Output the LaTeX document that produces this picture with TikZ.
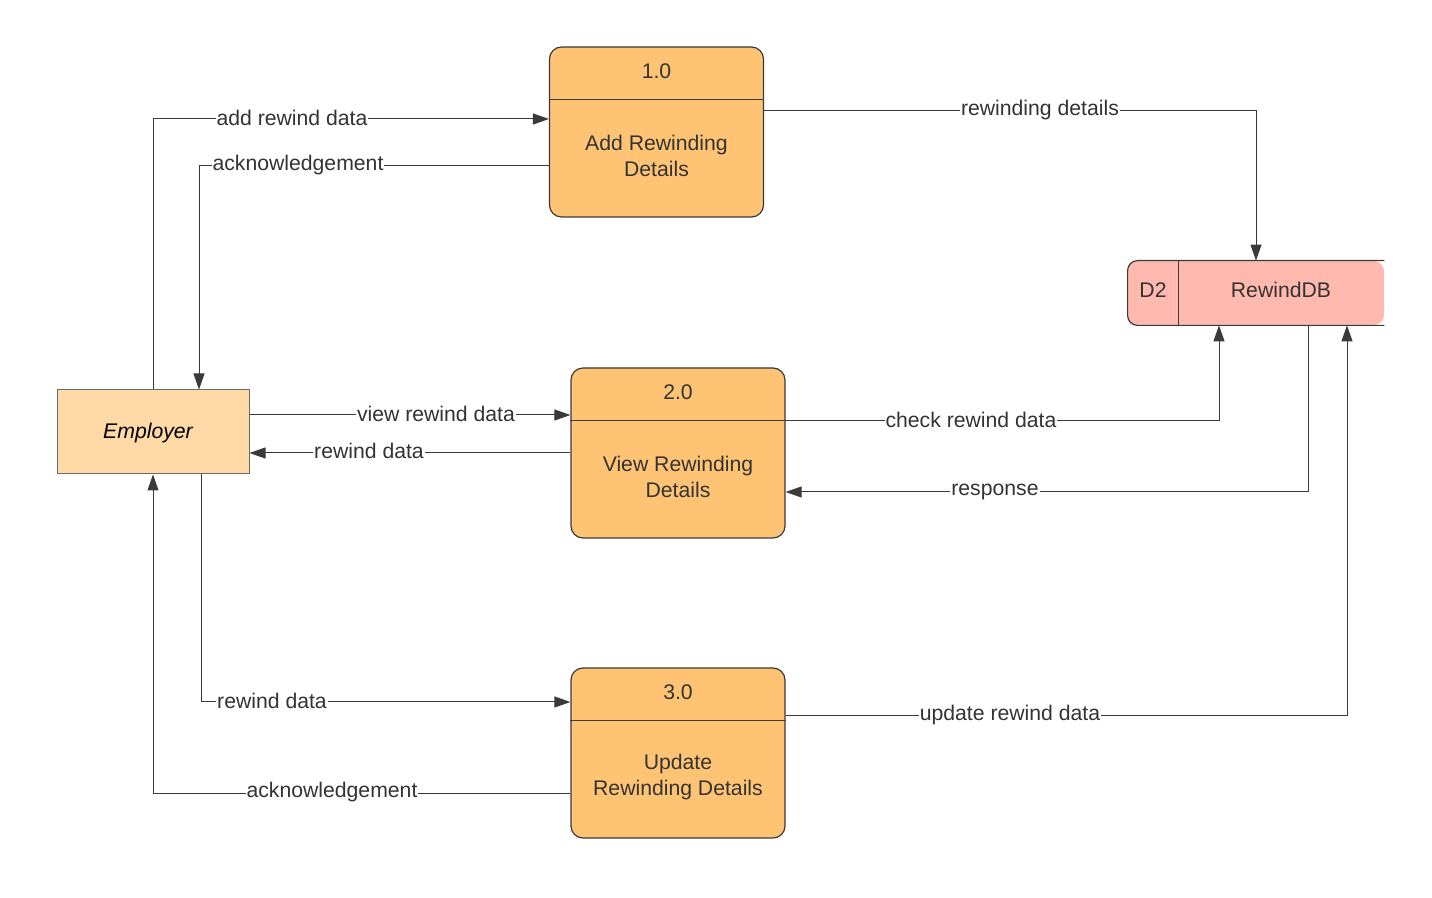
\documentclass[tikz,border=0pt]{standalone}
\usepackage{fontspec}
\setmainfont{Liberation Sans}
\usetikzlibrary{positioning, calc, arrows.meta}
\definecolor{mytext}{HTML}{333333}
\definecolor{myline}{HTML}{3A3A3A}
\definecolor{procfill}{HTML}{FFC374}
\definecolor{entfill}{HTML}{FFDAA6}
\definecolor{storefill}{HTML}{FFB9AF}
\tikzset{ % node styles
  my nodes/.style={draw=myline,line width=0.6pt,inner sep=0,text=mytext,
    font=\fontsize{10.6}{13}\selectfont},
  process/.style={my nodes,fill=procfill,rounded corners=6pt,minimum width=107pt,minimum height=85pt},
  entity/.style={my nodes,draw=myline!75,line width=0.5pt,fill=entfill,minimum width=96pt,minimum height=42pt},
  store/.style={fill=storefill,rounded corners=5pt,minimum width=128pt,minimum height=32pt,inner sep=0},
  my text/.style={text=mytext,align=center,font=\fontsize{10.6}{13}\selectfont},
  flow/.style={draw=myline,line width=0.5pt,-{Triangle[length=8pt,width=5.5pt]}},
  flow label/.style={fill=white,text=mytext,inner xsep=0.5pt,inner ysep=1pt,
    font=\fontsize{10.6}{13}\selectfont}
}

\begin{document}
\begin{tikzpicture}[x=0.5pt,y=-0.5pt]
\useasboundingbox (0,0) rectangle (1432,898);

% processes
\node[process] (p1) at (656.5,132) {};
\node[process] (p2) at (678,453)   {};
\node[process] (p3) at (678,753)   {};
\foreach\p/\n in {p1/1.0,p2/2.0,p3/3.0}
{
  \draw[myline,line width=0.6pt] ($(\p.north west)+(0,53)$) -- ($(\p.north east)+(0,53)$);
  \node[my text] (\p n) at ($(\p.north)+(0,25)$) {\n};
}
\node[my text] (p1t) at ($(p1.center)+(0,24)$) {Add Rewinding\\Details};
\node[my text] (p2t) at ($(p2.center)+(0,24)$) {View Rewinding\\Details};
\node[my text] (p3t) at ($(p3.center)+(0,24)$) {Update\\Rewinding Details};

% external entity
\node[entity] (emp) at (153,432) {};
\node[my text,text=black,font=\fontsize{10.6}{13}\selectfont\itshape] (empt) at (148,433) {Employer};

% data store
\node[store] (db) at (1256,293) {};
\draw[myline,line width=0.6pt,rounded corners=5pt]
  (db.north east) -- (db.north west) -- (db.south west) -- (db.south east);
\draw[myline,line width=0.6pt] ($(db.north west)+(51,0)$) -- ($(db.south west)+(51,0)$);
\node[my text] (dbid)   at (1153,290) {D2};
\node[my text] (dbname) at (1281,290) {RewindDB};

% bends
\coordinate (c1)  at (153,119);
\coordinate (c2)  at (199,166);
\coordinate (c3)  at (1256,111);
\coordinate (c4)  at (0,415);
\coordinate (c5)  at (0,453);
\coordinate (c6)  at (1219,421);
\coordinate (c7)  at (1308,492);
\coordinate (c8)  at (201,702);
\coordinate (c9)  at (153,794);
\coordinate (c10) at (1347,716);

% connections
\draw[flow] (emp.north -| c1) |- (p1.west |- c1);
\draw[flow] (p1.west |- c2) -| (emp.north -| c2);
\draw[flow] (p1.east |- c3) -| (db.north);
\draw[flow] (emp.east |- c4) -- (p2.west |- c4);
\draw[flow] (p2.west |- c5) -- (emp.east |- c5);
\draw[flow] (p2.east |- c6) -| (db.south -| c6);
\draw[flow] (db.south -| c7) |- (p2.east |- c7);
\draw[flow] (emp.south -| c8) |- (p3.west |- c8);
\draw[flow] (p3.west |- c9) -| (emp.south -| c9);
\draw[flow] (p3.east |- c10) -| (db.south -| c10);

% labels
\foreach\x/\y/\t in {292/118/add rewind data, 298/165/acknowledgement,
  1040/110/rewinding details, 436/414/view rewind data, 369/451/rewind data,
  971/420/check rewind data, 995/492/response, 272/701/rewind data,
  332/792/acknowledgement, 1010/715/update rewind data}
  \node[flow label] at (\x,\y) {\t};
\end{tikzpicture}
\end{document}
